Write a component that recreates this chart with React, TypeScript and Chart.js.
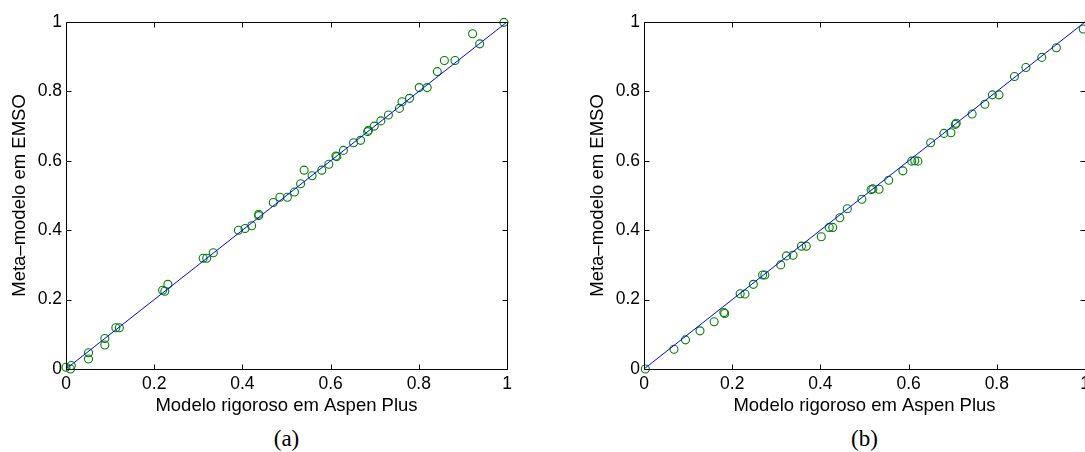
import React, { useEffect, useRef } from "react";
import { Chart, registerables } from "chart.js";

Chart.register(...registerables);

// ---- data ----
const X_TICKS = [0, 0.2, 0.4, 0.6, 0.8, 1];
const Y_TICKS = [0, 0.2, 0.4, 0.6, 0.8, 1];
const IDEAL_X = [0, 1];
const IDEAL_Y = [0, 1];

const A_RIGOROUS = [
  0.0, 0.012, 0.01, 0.051, 0.051, 0.088, 0.088, 0.113, 0.121, 0.219, 0.224, 0.231,
  0.311, 0.319, 0.334, 0.391, 0.406, 0.421, 0.437, 0.437, 0.47, 0.485, 0.502, 0.518,
  0.532, 0.54, 0.558, 0.58, 0.596, 0.612, 0.614, 0.629, 0.652, 0.668, 0.684, 0.686,
  0.699, 0.714, 0.731, 0.756, 0.762, 0.779, 0.801, 0.819, 0.842, 0.858, 0.882, 0.922,
  0.938, 0.993,
];
const A_META = [
  0.005, 0.01, 0.0, 0.047, 0.029, 0.088, 0.069, 0.119, 0.119, 0.227, 0.224, 0.244,
  0.319, 0.319, 0.335, 0.4, 0.405, 0.413, 0.442, 0.446, 0.48, 0.495, 0.495, 0.51,
  0.534, 0.573, 0.557, 0.573, 0.59, 0.614, 0.612, 0.63, 0.652, 0.659, 0.684, 0.688,
  0.7, 0.715, 0.732, 0.751, 0.77, 0.78, 0.811, 0.811, 0.857, 0.889, 0.889, 0.966,
  0.937, 0.999,
];

const B_RIGOROUS = [
  0.003, 0.068, 0.094, 0.127, 0.159, 0.181, 0.183, 0.218, 0.229, 0.248, 0.269, 0.274,
  0.31, 0.323, 0.338, 0.357, 0.368, 0.402, 0.42, 0.428, 0.444, 0.461, 0.494, 0.515,
  0.519, 0.533, 0.555, 0.587, 0.607, 0.614, 0.621, 0.65, 0.68, 0.696, 0.706, 0.708,
  0.744, 0.773, 0.79, 0.805, 0.84, 0.866, 0.902, 0.935, 0.996,
];
const B_META = [
  0.0, 0.057, 0.084, 0.11, 0.136, 0.163, 0.16, 0.217, 0.216, 0.244, 0.271, 0.271,
  0.3, 0.326, 0.328, 0.354, 0.354, 0.381, 0.408, 0.408, 0.436, 0.462, 0.489, 0.517,
  0.519, 0.518, 0.544, 0.571, 0.599, 0.6, 0.599, 0.652, 0.679, 0.681, 0.705, 0.708,
  0.735, 0.763, 0.79, 0.79, 0.843, 0.869, 0.898, 0.926, 0.98,
];

const X_TITLE = "Modelo rigoroso em Aspen Plus";
const Y_TITLE = "Meta\u2013modelo em EMSO";
const CAPTIONS = ["(a)", "(b)"];

const SANS = "'Liberation Sans', Arial, Helvetica, sans-serif";
const SERIF = "'Liberation Serif', 'Times New Roman', serif";

const boxPlugin = {
  id: "matlabBox",
  afterDraw(chart: any) {
    const { ctx, chartArea } = chart;
    const { left, right, top, bottom } = chartArea;
    const xs = chart.scales.x;
    const ys = chart.scales.y;
    const L = Math.round(left) + 0.5;
    const R = Math.round(right) + 0.5;
    const T = Math.round(top) + 0.5;
    const B = Math.round(bottom) + 0.5;
    const tl = 5;
    ctx.save();
    ctx.strokeStyle = "#000";
    ctx.lineWidth = 1;
    ctx.beginPath();
    ctx.rect(L, T, R - L, B - T);
    X_TICKS.forEach((v) => {
      const p = Math.round(xs.getPixelForValue(v)) + 0.5;
      ctx.moveTo(p, B);
      ctx.lineTo(p, B - tl);
      ctx.moveTo(p, T);
      ctx.lineTo(p, T + tl);
    });
    Y_TICKS.forEach((v) => {
      const p = Math.round(ys.getPixelForValue(v)) + 0.5;
      ctx.moveTo(L, p);
      ctx.lineTo(L + tl, p);
      ctx.moveTo(R, p);
      ctx.lineTo(R - tl, p);
    });
    ctx.stroke();
    ctx.restore();
  },
};

function Panel({ xs, ys, left }: { xs: number[]; ys: number[]; left: number }) {
  const ref = useRef<HTMLCanvasElement | null>(null);
  useEffect(() => {
    if (!ref.current) return;
    const chart = new Chart(ref.current, {
      type: "scatter",
      data: {
        datasets: [
          {
            type: "line",
            data: IDEAL_X.map((x, i) => ({ x, y: IDEAL_Y[i] })),
            borderColor: "#0000ff",
            borderWidth: 1,
            pointRadius: 0,
            fill: false,
            clip: false as any,
          },
          {
            data: xs.map((x, i) => ({ x, y: ys[i] })),
            pointStyle: "circle",
            pointRadius: 4,
            pointBorderWidth: 1.1,
            pointBorderColor: "#008000",
            pointBackgroundColor: "rgba(0,0,0,0)",
            borderColor: "#008000",
            backgroundColor: "rgba(0,0,0,0)",
            showLine: false,
            clip: false as any,
          },
        ],
      },
      options: {
        animation: false,
        responsive: false,
        maintainAspectRatio: false,
        layout: { padding: { top: 22, right: 33, left: 0, bottom: 0 } },
        plugins: {
          legend: { display: false },
          tooltip: { enabled: false },
          title: { display: false },
        },
        scales: {
          x: {
            type: "linear",
            min: 0,
            max: 1,
            afterBuildTicks: (s: any) => {
              s.ticks = X_TICKS.map((v) => ({ value: v }));
            },
            afterFit: (s: any) => {
              s.height = 51;
            },
            ticks: {
              callback: (v: any) => String(v),
              font: { family: SANS, size: 17.5 },
              color: "#000",
              padding: 5,
              maxRotation: 0,
              autoSkip: false,
            },
            grid: { display: false, drawTicks: false },
            border: { display: false },
            title: {
              display: true,
              text: X_TITLE,
              font: { family: SANS, size: 18.5 },
              color: "#000",
              padding: { top: 0, bottom: 2.5 },
            },
          },
          y: {
            type: "linear",
            min: 0,
            max: 1,
            afterBuildTicks: (s: any) => {
              s.ticks = Y_TICKS.map((v) => ({ value: v }));
            },
            afterFit: (s: any) => {
              s.width = 66;
            },
            ticks: {
              callback: (v: any) => String(v),
              font: { family: SANS, size: 17.5 },
              color: "#000",
              padding: 4,
              autoSkip: false,
            },
            grid: { display: false, drawTicks: false },
            border: { display: false },
            title: {
              display: true,
              text: Y_TITLE,
              font: { family: SANS, size: 18.5 },
              color: "#000",
              padding: { top: 8.5, bottom: 0 },
            },
          },
        },
      },
      plugins: [boxPlugin],
    });
    return () => chart.destroy();
  }, [xs, ys]);
  return (
    <canvas
      ref={ref}
      width={540}
      height={420}
      style={{ position: "absolute", left, top: 0, width: 540, height: 420 }}
    />
  );
}

export default function App() {
  const captionStyle = (cx: number): React.CSSProperties => ({
    position: "absolute",
    left: cx - 50,
    width: 100,
    top: 425,
    textAlign: "center",
    fontFamily: SERIF,
    fontSize: 23,
    lineHeight: "27px",
    color: "#000",
  });
  return (
    <div
      style={{
        position: "fixed",
        left: 0,
        top: 0,
        width: 1085,
        height: 452,
        overflow: "hidden",
        background: "#fff",
      }}
    >
      <Panel xs={A_RIGOROUS} ys={A_META} left={0} />
      <Panel xs={B_RIGOROUS} ys={B_META} left={578} />
      <div style={captionStyle(286.5)}>{CAPTIONS[0]}</div>
      <div style={captionStyle(864.5)}>{CAPTIONS[1]}</div>
    </div>
  );
}
